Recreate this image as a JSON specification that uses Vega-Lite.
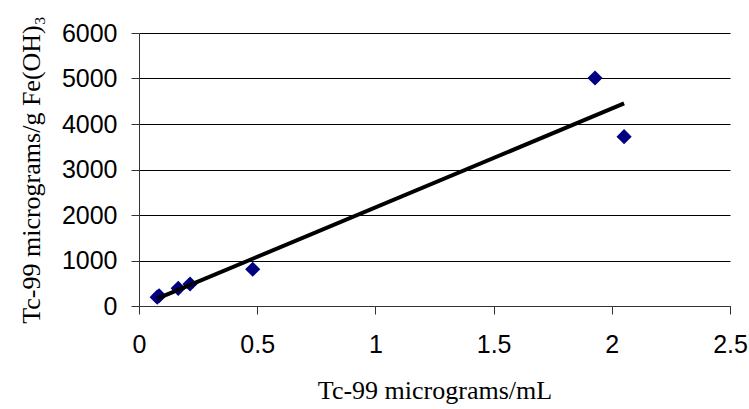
{
  "$schema": "https://vega.github.io/schema/vega-lite/v6.json",
  "autosize": "none",
  "padding": {"left": 139, "top": 33, "right": 19, "bottom": 103},
  "width": 591,
  "height": 273,
  "background": "white",
  "data": {"values": [
    {"x": 0.077, "y": 195},
    {"x": 0.085, "y": 225},
    {"x": 0.166, "y": 389},
    {"x": 0.216, "y": 484},
    {"x": 0.481, "y": 807},
    {"x": 1.929, "y": 5011},
    {"x": 2.052, "y": 3721}
  ]},
  "config": {
    "view": {"stroke": null},
    "axis": {
      "labelFont": "Liberation Sans",
      "labelFontSize": 25,
      "labelColor": "black",
      "titleFont": "Liberation Serif",
      "titleFontSize": 26,
      "titleFontWeight": "normal",
      "titleColor": "black",
      "domainColor": "#333333",
      "tickColor": "#333333",
      "tickSize": 8,
      "gridColor": "#000000",
      "gridWidth": 1
    }
  },
  "layer": [
    {
      "mark": {"type": "point", "shape": "diamond", "filled": true, "color": "#000080", "size": 230, "opacity": 1},
      "encoding": {
        "x": {"field": "x", "type": "quantitative", "scale": {"domain": [0, 2.5], "nice": false},
              "axis": {"title": "Tc-99 micrograms/mL", "values": [0, 0.5, 1, 1.5, 2, 2.5], "format": "~g", "grid": false, "labelPadding": 18, "titlePadding": 20, "labelFlush": false}},
        "y": {"field": "y", "type": "quantitative", "scale": {"domain": [0, 6000], "nice": false},
              "axis": {"title": "Tc-99 micrograms/g Fe(OH)₃", "values": [0, 1000, 2000, 3000, 4000, 5000, 6000], "format": "d", "grid": true, "labelPadding": 14, "titlePadding": 17}}
      }
    },
    {
      "transform": [{"regression": "y", "on": "x", "method": "linear"}],
      "mark": {"type": "line", "color": "black", "strokeWidth": 4},
      "encoding": {
        "x": {"field": "x", "type": "quantitative"},
        "y": {"field": "y", "type": "quantitative"}
      }
    }
  ]
}
